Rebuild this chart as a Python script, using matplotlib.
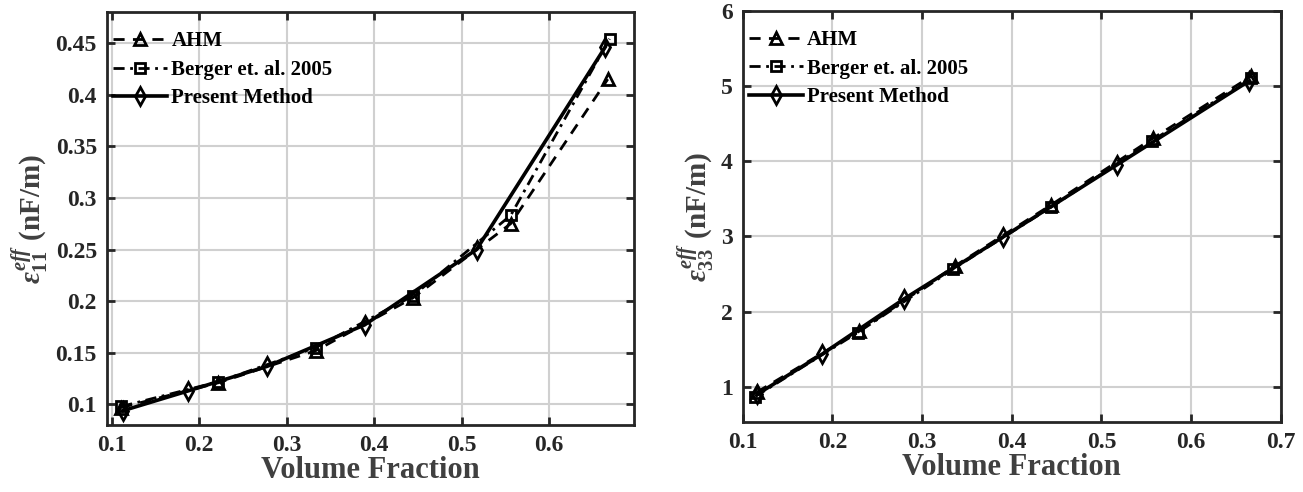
import matplotlib
matplotlib.use("Agg")
import matplotlib.pyplot as plt

# ---- data ----
x_ahm = [0.111, 0.222, 0.333, 0.444, 0.556, 0.667]
x_berger = [0.111, 0.222, 0.333, 0.444, 0.556, 0.669]
x_present = [0.113, 0.187, 0.278, 0.389, 0.517, 0.664]

e11_ahm = [0.097, 0.121, 0.152, 0.203, 0.275, 0.415]
e11_berger = [0.098, 0.122, 0.155, 0.205, 0.283, 0.454]
e11_present = [0.094, 0.113, 0.137, 0.177, 0.250, 0.446]

x_ahm33 = [0.116, 0.230, 0.337, 0.444, 0.558, 0.667]
x_berger33 = [0.114, 0.228, 0.335, 0.444, 0.556, 0.667]
x_present33 = [0.116, 0.188, 0.280, 0.390, 0.517, 0.665]
e33_ahm = [0.93, 1.74, 2.61, 3.42, 4.31, 5.13]
e33_berger = [0.87, 1.72, 2.57, 3.39, 4.27, 5.10]
e33_present = [0.90, 1.43, 2.17, 2.99, 3.95, 5.07]

labels = ["AHM", "Berger et. al. 2005", "Present Method"]
xticks = [0.1, 0.2, 0.3, 0.4, 0.5, 0.6, 0.7]
yticks_l = [0.1, 0.15, 0.2, 0.25, 0.3, 0.35, 0.4, 0.45]
yticks_r = [1, 2, 3, 4, 5, 6]

plt.rcParams['font.family'] = ['Liberation Serif', 'DejaVu Serif']
plt.rcParams['font.weight'] = 'bold'
plt.rcParams['mathtext.fontset'] = 'custom'
plt.rcParams['mathtext.rm'] = 'Liberation Serif:bold'
plt.rcParams['mathtext.it'] = 'Liberation Serif:bold:italic'
plt.rcParams['mathtext.bf'] = 'Liberation Serif:bold'

fig = plt.figure(figsize=(13.03, 4.92), dpi=100)
axL = fig.add_axes([0.0819, 0.136, 0.4047, 0.8396])
axR = fig.add_axes([0.570, 0.142, 0.413, 0.836])

def style(ax):
    for s in ax.spines.values():
        s.set_linewidth(2.0)
        s.set_color('#262626')
    ax.grid(True, color='#d0d0d0', linewidth=1.5)
    ax.set_axisbelow(True)
    ax.tick_params(direction='in', length=6, width=2, color='#262626',
                   top=True, right=True, labelsize=17, pad=7)
    for lab in ax.get_xticklabels() + ax.get_yticklabels():
        lab.set_fontweight('bold')
        lab.set_color('#262626')

def draw(ax, xa, ya, xb, yb, xp, yp):
    ax.plot(xa, ya, color='black', linestyle=(0, (4, 3)), linewidth=2,
            marker='^', markersize=8, markerfacecolor='none', markeredgewidth=2, label=labels[0])
    ax.plot(xb, yb, color='black', linestyle=(0, (4, 2, 1, 2)), linewidth=2,
            marker='s', markersize=6.5, markerfacecolor='none', markeredgewidth=2, label=labels[1])
    ax.plot(xp, yp, color='black', linestyle='-', linewidth=2.6,
            marker='d', markersize=9, markerfacecolor='none', markeredgewidth=2, label=labels[2])
    leg = ax.legend(loc='upper left', frameon=False, fontsize=15, handlelength=2.6,
                    handletextpad=0.2, borderaxespad=0.0, borderpad=0.3, labelspacing=0.4,
                    bbox_to_anchor=(0.0, 0.968))
    for t in leg.get_texts():
        t.set_fontweight('bold')

draw(axL, x_ahm, e11_ahm, x_berger, e11_berger, x_present, e11_present)
axL.set_xlim(0.0943, 0.697)
axL.set_ylim(0.08, 0.48)
axL.set_xticks(xticks[:-1])
axL.set_xticklabels([f"{v:g}" for v in xticks[:-1]])
axL.set_yticks(yticks_l)
axL.set_yticklabels([f"{v:g}" for v in yticks_l])
axL.set_xlabel("Volume Fraction", fontsize=22, fontweight='bold', color='#404040', labelpad=0)
axL.set_ylabel(r"$\epsilon_{11}^{eff}$ (nF/m)", fontsize=21, fontweight='bold', color='#404040', labelpad=4)
style(axL)

draw(axR, x_ahm33, e33_ahm, x_berger33, e33_berger, x_present33, e33_present)
axR.set_xlim(0.1, 0.7)
axR.set_ylim(0.53, 6)
axR.set_xticks(xticks)
axR.set_xticklabels([f"{v:g}" for v in xticks])
axR.set_yticks(yticks_r)
axR.set_yticklabels([f"{v:g}" for v in yticks_r])
axR.set_xlabel("Volume Fraction", fontsize=22, fontweight='bold', color='#404040', labelpad=0)
axR.set_ylabel(r"$\epsilon_{33}^{eff}$ (nF/m)", fontsize=21, fontweight='bold', color='#404040', labelpad=4)
style(axR)

fig.savefig("out.png", dpi=100)
